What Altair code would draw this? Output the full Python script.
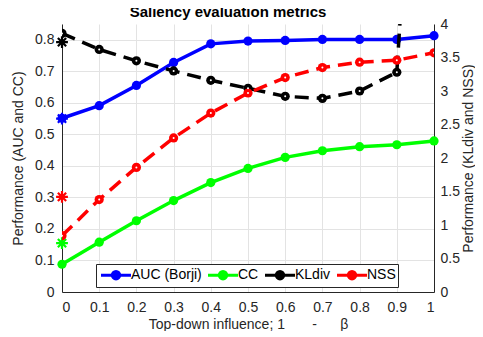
import altair as alt
import pandas as pd

# ---------------- data ----------------
x_vals = [0.0, 0.1, 0.2, 0.3, 0.4, 0.5, 0.6, 0.7, 0.8, 0.9, 1.0]
auc = [0.551, 0.591, 0.655, 0.728, 0.787, 0.796, 0.798, 0.801, 0.801, 0.801, 0.813]
cc = [0.088, 0.158, 0.226, 0.290, 0.347, 0.392, 0.427, 0.448, 0.461, 0.467, 0.479]
kldiv = [3.86, 3.62, 3.45, 3.30, 3.16, 3.04, 2.92, 2.89, 3.00, 3.28, 12.0]
nss = [0.84, 1.38, 1.86, 2.30, 2.67, 2.97, 3.20, 3.35, 3.43, 3.46, 3.57]

series_names = ["AUC (Borji)", "CC", "KLdiv", "NSS"]
series_colors = ["#0000ff", "#00ff00", "#000000", "#ff0000"]

# single baseline markers ("*") at x = 0
baseline_x = [0.0, 0.0, 0.0, 0.0]
baseline_values = [0.550, 0.155, 3.73, 1.42]

x_ticks = [0, 0.1, 0.2, 0.3, 0.4, 0.5, 0.6, 0.7, 0.8, 0.9, 1]
left_ticks = [0, 0.1, 0.2, 0.3, 0.4, 0.5, 0.6, 0.7, 0.8]
right_ticks = [0, 0.5, 1, 1.5, 2, 2.5, 3, 3.5, 4]

# ---------------- tables ----------------
rows = []
for name, vals in zip(series_names, [auc, cc, kldiv, nss]):
    for xv, v in zip(x_vals, vals):
        rows.append({"metric": name, "x": xv, "v": v})
df = pd.DataFrame(rows)
left_df = df[df.metric.isin(["AUC (Borji)", "CC"])]
right_df = df[df.metric.isin(["KLdiv", "NSS"])]
star_df = pd.DataFrame({"metric": series_names, "x": baseline_x, "v": baseline_values})
left_star = star_df[star_df.metric.isin(["AUC (Borji)", "CC"])]
right_star = star_df[star_df.metric.isin(["KLdiv", "NSS"])]

FONT = "Liberation Sans"
W, H = 372, 268

x_enc = alt.X(
    "x:Q",
    scale=alt.Scale(domain=[0, 1], nice=False),
    axis=alt.Axis(
        values=x_ticks, format="~g", grid=True, labelOverlap=False,
        title="Top-down influence; 1\u00a0\u00a0\u00a0\u00a0\u00a0\u00a0\u00a0-\u00a0\u00a0\u00a0\u00a0\u00a0\u00a0β",
        titleY=32, titleBaseline="middle", labelPadding=8,
    ),
)

yl_enc = alt.Y(
    "v:Q",
    scale=alt.Scale(domain=[0, 0.85], nice=False, zero=True),
    axis=alt.Axis(
        orient="left", values=left_ticks, format="~g", grid=True, labelOverlap=False,
        title="Performance (AUC and CC)", titleX=-44, titleY=H / 2,
        titleBaseline="middle", titleAngle=270, labelPadding=8,
    ),
)
yr_enc = alt.Y(
    "v:Q",
    scale=alt.Scale(domain=[0, 4], nice=False, zero=True),
    axis=alt.Axis(
        orient="right", values=right_ticks, format="~g", grid=False, labelOverlap=False,
        title="Performance (KLdiv and NSS)", titleX=34, titleY=H / 2,
        titleBaseline="middle", titleAngle=270, labelPadding=6,
    ),
)

legend_path = ("M-2,0L2,0"
               "M0.2,0A0.2,0.2,0,1,1,-0.2,0A0.2,0.2,0,1,1,0.2,0"
               "M0.5,0A0.5,0.5,0,1,1,-0.5,0A0.5,0.5,0,1,1,0.5,0")

color_legend = alt.Color(
    "metric:N",
    scale=alt.Scale(domain=series_names, range=series_colors),
    legend=alt.Legend(
        title=None, orient="none", legendX=34, legendY=240,
        direction="horizontal", columns=4, columnPadding=0,
        strokeColor="#262626", fillColor="white", padding=2,
        symbolType=legend_path, symbolSize=225, symbolStrokeWidth=3,
        symbolOffset=9, labelOffset=6,
        labelFont=FONT, labelFontSize=14, labelColor="#000000",
    ),
)
color_plain = alt.Color(
    "metric:N",
    scale=alt.Scale(domain=series_names, range=series_colors),
    legend=None,
)

asterisk = "M-1,0L1,0M0,-1L0,1M-0.7,-0.7L0.7,0.7M-0.7,0.7L0.7,-0.7"

left_line = alt.Chart(left_df).mark_line(strokeWidth=3.5).encode(
    x=x_enc, y=yl_enc, color=color_legend, detail="metric:N")
left_pts = alt.Chart(left_df).mark_point(filled=True, size=85, opacity=1).encode(
    x=x_enc, y=yl_enc, color=color_plain)
left_st = alt.Chart(left_star).mark_point(shape=asterisk, filled=False, size=140,
                                          strokeWidth=2.2, opacity=1).encode(
    x=x_enc, y=yl_enc, color=color_plain)
left = alt.layer(left_line, left_pts, left_st)

right_line = alt.Chart(right_df).mark_line(strokeWidth=3.5, strokeDash=[14, 8], clip=True).encode(
    x=x_enc, y=yr_enc, color=color_plain, detail="metric:N")
right_pts = alt.Chart(right_df).mark_point(filled=True, size=85, opacity=1, clip=True).encode(
    x=x_enc, y=yr_enc, color=color_plain)
right_dots = alt.Chart(right_df).mark_point(filled=True, size=4, opacity=1, color="white", clip=True).encode(
    x=x_enc, y=yr_enc)
right_st = alt.Chart(right_star).mark_point(shape=asterisk, filled=False, size=140,
                                            strokeWidth=2.2, opacity=1).encode(
    x=x_enc, y=yr_enc, color=color_plain)
right = alt.layer(right_line, right_pts, right_dots, right_st)

chart = alt.layer(left, right).resolve_scale(y="independent").properties(
    width=W, height=H,
    title=alt.TitleParams("Saliency evaluation metrics", font=FONT, fontSize=15,
                          fontWeight="bold", color="#000000", anchor="middle",
                          frame="group", dx=-20, dy=9, offset=6),
    padding={"left": 54, "top": 16, "right": 41, "bottom": 39},
    autosize=alt.AutoSizeParams(type="none"),
).configure_view(stroke=None).configure_axis(
    labelFont=FONT, titleFont=FONT, labelFontSize=14, titleFontSize=14,
    titleFontWeight="normal", labelColor="#262626", titleColor="#262626",
    domainColor="#262626", domainWidth=1, ticks=False,
    gridColor="#e3e3e3", gridWidth=1,
)

chart.save("out.html", embed_options={"renderer": "svg", "actions": False})
